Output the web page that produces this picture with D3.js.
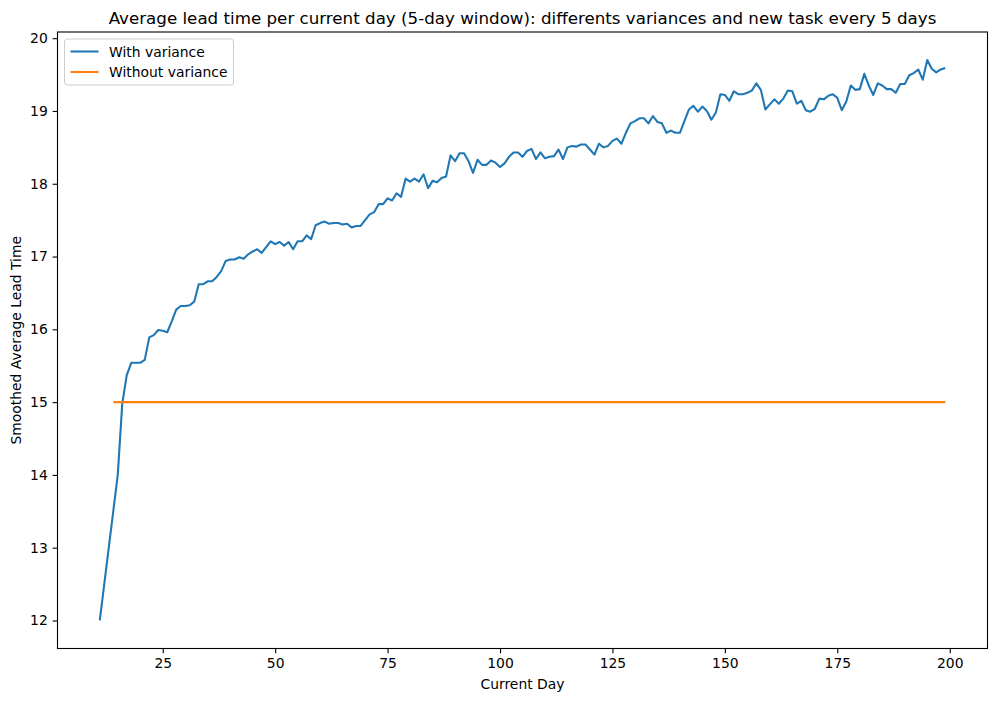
<!DOCTYPE html>
<html>
<head>
<meta charset="utf-8">
<script src="https://cdn.jsdelivr.net/npm/d3@7"></script>
<style>
  html, body { margin: 0; padding: 0; background: #fff; }
  svg { display: block; font-family: "DejaVu Sans", sans-serif; }
</style>
</head>
<body>
<svg id="chart" width="997" height="701"></svg>
<script>
// ---- data ----
const startDay = 11;
const withVariance = [
  12.0, 12.5, 13.0, 13.5, 14.0, 14.98, 15.37, 15.54, 15.54, 15.54,
  15.58, 15.89, 15.92, 15.99, 15.98, 15.96, 16.11, 16.27, 16.32, 16.32,
  16.33, 16.38, 16.62, 16.62, 16.66, 16.66, 16.72, 16.80, 16.94, 16.96,
  16.96, 16.99, 16.97, 17.03, 17.07, 17.10, 17.05, 17.13, 17.21, 17.17,
  17.20, 17.15, 17.20, 17.10, 17.21, 17.21, 17.29, 17.24, 17.43, 17.46,
  17.48, 17.45, 17.46, 17.46, 17.44, 17.45, 17.40, 17.42, 17.42, 17.50,
  17.58, 17.61, 17.72, 17.72, 17.80, 17.77, 17.87, 17.82, 18.07, 18.03,
  18.07, 18.03, 18.13, 17.94, 18.04, 18.02, 18.08, 18.10, 18.39, 18.31,
  18.42, 18.42, 18.31, 18.15, 18.33, 18.26, 18.26, 18.32, 18.29, 18.23,
  18.28, 18.37, 18.43, 18.43, 18.37, 18.45, 18.48, 18.34, 18.43, 18.35,
  18.37, 18.38, 18.47, 18.34, 18.50, 18.52, 18.51, 18.54, 18.54, 18.47,
  18.40, 18.55, 18.50, 18.52, 18.59, 18.62, 18.55, 18.70, 18.83, 18.86,
  18.90, 18.90, 18.83, 18.93, 18.85, 18.83, 18.70, 18.73, 18.70, 18.70,
  18.86, 19.02, 19.07, 18.99, 19.06, 19.00, 18.88, 18.98, 19.23, 19.22,
  19.14, 19.27, 19.23, 19.23, 19.25, 19.28, 19.38, 19.29, 19.02, 19.09,
  19.16, 19.10, 19.17, 19.28, 19.27, 19.10, 19.14, 19.01, 18.99, 19.03,
  19.17, 19.16, 19.21, 19.23, 19.18, 19.01, 19.13, 19.35, 19.29, 19.30,
  19.51, 19.35, 19.22, 19.38, 19.35, 19.30, 19.30, 19.25, 19.37, 19.37,
  19.49, 19.52, 19.57, 19.43, 19.70, 19.58, 19.53, 19.57, 19.59
];
const withoutStart = 14;
const withoutEnd = 199;
const withoutValue = 15;
const xTicks = [25, 50, 75, 100, 125, 150, 175, 200];
const yTicks = [12, 13, 14, 15, 16, 17, 18, 19, 20];
const seriesNames = ["With variance", "Without variance"];
const colors = ["#1f77b4", "#ff7f0e"];
const titleText = "Average lead time per current day (5-day window): differents variances and new task every 5 days";
const xLabelText = "Current Day";
const yLabelText = "Smoothed Average Lead Time";

// ---- build series ----
const s1 = withVariance.map((v, i) => ({ x: startDay + i, y: v }));
const s2 = d3.range(withoutStart, withoutEnd + 1).map(d => ({ x: d, y: withoutValue }));

// ---- layout ----
const mLeft = 57.5, mRight = 987.5, mTop = 32, mBottom = 648.5;
const svg = d3.select("#chart");

const xMin = d3.min(s1, d => d.x), xMax = d3.max(s1, d => d.x);
const xPad = (xMax - xMin) * 0.05;
const yMin = d3.min(s1, d => d.y), yMax = d3.max(s1, d => d.y);
const yPad = (yMax - yMin) * 0.05;

const x = d3.scaleLinear().domain([xMin - xPad, xMax + xPad]).range([mLeft, mRight]);
const y = d3.scaleLinear().domain([yMin - yPad, yMax + yPad]).range([mBottom, mTop]);

// lines
const line = d3.line().x(d => x(d.x)).y(d => y(d.y));
const g = svg.append("g");
g.append("path").datum(s1).attr("d", line)
  .attr("fill", "none").attr("stroke", colors[0]).attr("stroke-width", 2.08)
  .attr("stroke-linejoin", "round").attr("stroke-linecap", "butt");
g.append("path").datum(s2).attr("d", line)
  .attr("fill", "none").attr("stroke", colors[1]).attr("stroke-width", 2.08);

// axes
const xAxis = d3.axisBottom(x).tickValues(xTicks).tickSize(4.86).tickPadding(4.86).tickFormat(d3.format("d"));
const yAxis = d3.axisLeft(y).tickValues(yTicks).tickSize(4.86).tickPadding(4.86).tickFormat(d3.format("d"));

const gx = svg.append("g").attr("transform", `translate(0,${mBottom})`).call(xAxis);
const gy = svg.append("g").attr("transform", `translate(${mLeft},0)`).call(yAxis);
[gx, gy].forEach(a => {
  a.select(".domain").remove();
  a.selectAll(".tick line").attr("stroke", "#000").attr("stroke-width", 1.1);
  a.selectAll(".tick text").attr("fill", "#000")
    .style("font-family", "'DejaVu Sans', sans-serif").style("font-size", "13.9px");
});

// frame
svg.append("rect").attr("x", mLeft).attr("y", mTop)
  .attr("width", mRight - mLeft).attr("height", mBottom - mTop)
  .attr("fill", "none").attr("stroke", "#000").attr("stroke-width", 1.1);

// title & labels
svg.append("text").attr("x", (mLeft + mRight) / 2).attr("y", 24)
  .attr("text-anchor", "middle").style("font-size", "16.7px").attr("fill", "#000")
  .text(titleText);
svg.append("text").attr("x", (mLeft + mRight) / 2).attr("y", 689)
  .attr("text-anchor", "middle").style("font-size", "13.9px").attr("fill", "#000")
  .text(xLabelText);
svg.append("text").attr("transform", `translate(21,${(mTop + mBottom) / 2}) rotate(-90)`)
  .attr("text-anchor", "middle").style("font-size", "13.9px").attr("fill", "#000")
  .text(yLabelText);

// legend
const lg = svg.append("g").attr("transform", `translate(${mLeft + 7},${mTop + 7})`);
lg.append("rect").attr("x", 0).attr("y", 0).attr("width", 169).attr("height", 46)
  .attr("rx", 3).attr("fill", "#fff").attr("fill-opacity", 0.8)
  .attr("stroke", "#ccc").attr("stroke-width", 1);
seriesNames.forEach((name, i) => {
  const cy = 12.5 + i * 20.5;
  lg.append("line").attr("x1", 6).attr("x2", 34).attr("y1", cy).attr("y2", cy)
    .attr("stroke", colors[i]).attr("stroke-width", 2.08);
  lg.append("text").attr("x", 44.5).attr("y", cy + 5).style("font-size", "13.9px")
    .attr("fill", "#000").text(name);
});
</script>
</body>
</html>
